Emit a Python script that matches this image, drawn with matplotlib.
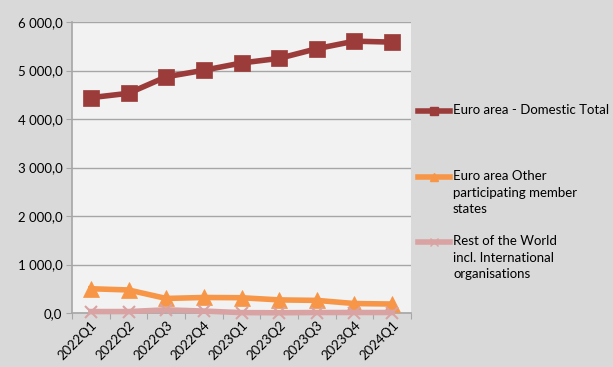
import matplotlib.pyplot as plt
from matplotlib.lines import Line2D
from matplotlib.ticker import FuncFormatter

quarters = ["2022Q1", "2022Q2", "2022Q3", "2022Q4", "2023Q1",
            "2023Q2", "2023Q3", "2023Q4", "2024Q1"]
domestic = [4440, 4530, 4870, 5005, 5155, 5250, 5450, 5605, 5585]
other_members = [500, 475, 300, 320, 315, 270, 260, 195, 185]
rest_of_world = [30, 30, 65, 40, 8, 5, 10, 10, 10]

names = ["Euro area - Domestic Total",
         "Euro area Other\nparticipating member\nstates",
         "Rest of the World\nincl. International\norganisations"]
colours = ["#9b3c3a", "#f79646", "#d9a3a3"]
markers = ["s", "^", "x"]

plt.rcParams['font.family'] = ['Lato', 'DejaVu Sans']

W, H = 613, 367
fig = plt.figure(figsize=(W / 100, H / 100), dpi=100, facecolor="#d9d9d9")
ax = fig.add_axes([72 / W, 1 - 313 / H, (411 - 72) / W, (313 - 22) / H])
ax.set_facecolor("#f2f2f2")

x = list(range(len(quarters)))
for vals, c, m in zip([domestic, other_members, rest_of_world], colours, markers):
    ms = 11 if m != "x" else 9
    ax.plot(x, vals, color=c, lw=4, marker=m, ms=ms, mew=1.5 if m == "x" else 0.5,
            mec=c, zorder=3, clip_on=False)

ax.set_xlim(-0.5, len(quarters) - 0.5)
ax.set_ylim(0, 6000)
ax.set_yticks(range(0, 6001, 1000))
ax.yaxis.set_major_formatter(FuncFormatter(
    lambda v, p: f"{v:,.1f}".replace(",", " ").replace(".", ",")))
ax.grid(axis="y", color="#a6a6a6", lw=1)
ax.set_axisbelow(True)

# category boundaries carry the tick marks, labels sit at centres
ax.set_xticks([i - 0.5 for i in range(len(quarters) + 1)])
ax.set_xticklabels([])
ax.set_xticks(x, minor=True)
ax.set_xticklabels(quarters, minor=True, rotation=45, ha="right",
                   rotation_mode="anchor", fontsize=9.5)
ax.tick_params(axis="x", which="minor", length=0, pad=4)
ax.tick_params(axis="x", which="major", length=4, color="#a6a6a6")
ax.tick_params(axis="y", length=4, color="#a6a6a6", labelsize=9.5, pad=3)

for s in ["top", "right"]:
    ax.spines[s].set_visible(False)
for s in ["left", "bottom"]:
    ax.spines[s].set_color("#a6a6a6")
    ax.spines[s].set_linewidth(1.2)

# legend on the right
entry_y = [111, 177, 242]
for name, c, m, yy in zip(names, colours, markers, entry_y):
    fy = 1 - yy / H
    fig.add_artist(Line2D([418 / W, 450 / W], [fy, fy], color=c, lw=4,
                          transform=fig.transFigure))
    fig.add_artist(Line2D([434 / W], [fy], color=c, marker=m, ms=6,
                          mew=1.0, transform=fig.transFigure))
    fig.text(453 / W, fy + 7 / H, name, color="black", fontsize=9.5, va="top",
             ha="left", linespacing=1.45, transform=fig.transFigure)

fig.savefig("out.png", dpi=100, facecolor=fig.get_facecolor())
